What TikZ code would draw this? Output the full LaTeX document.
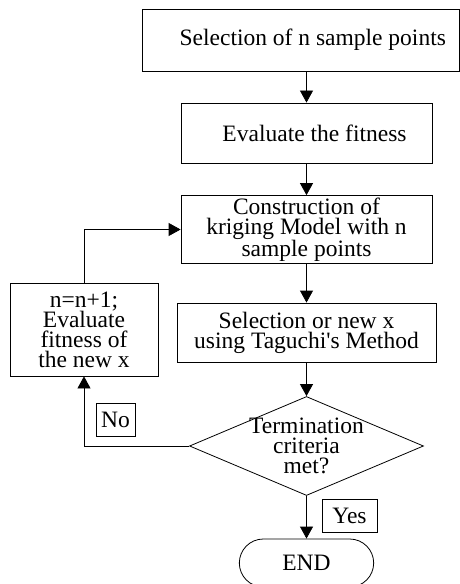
\documentclass[tikz,border=0pt]{standalone}
\usepackage{fontspec}
\setmainfont{Liberation Serif}
\usetikzlibrary{shapes.geometric}
\usetikzlibrary{shapes.misc}
\usetikzlibrary{arrows.meta}
\usetikzlibrary{math}

\tikzset{
  box/.style={draw, rectangle, inner sep=2bp, align=center},
  decision/.style={draw, diamond, inner sep=0pt, minimum width=234bp, minimum height=99bp},
  answer/.style={draw, rectangle, inner sep=0pt},
  terminal/.style={draw, rounded rectangle, minimum width=141bp, minimum height=48bp},
  flow/.style={-{Triangle[length=12bp,width=13bp]}}
}

\begin{document}
\begin{tikzpicture}[x=1bp,y=-1bp,line width=0.8bp,font=\fontsize{23.5bp}{20bp}\selectfont]

  \tikzmath{
    \midx  = 306.5; % x of the main column
    \loopx = 84;    % x of the loop back
  }

  \useasboundingbox (0,0) rectangle (460,584);

  % main column
  \node[box, minimum width=317.5bp, minimum height=62bp,
        label={[xshift=12bp]center:Selection of n sample points}] (select) at (300.75,40) {};
  \node[box, minimum width=251bp, minimum height=60bp,
        label={[xshift=8bp]center:Evaluate the fitness}] (evaluate) at (\midx,133) {};
  \node[box, minimum width=251bp, minimum height=67bp] (kriging) at (\midx,229.5)
    {Construction of\\kriging Model with n\\sample points};
  \node[box, minimum width=259bp, minimum height=59bp] (taguchi) at (\midx,332.5)
    {Selection or new x\\using Taguchi\textquotesingle s Method};
  \node[decision, label={[align=center]center:Termination\\criteria\\met?}] (criteria) at (\midx,446) {};
  \node[terminal] (finish) at (\midx,563) {END};

  % loop back
  \node[box, minimum width=148bp, minimum height=93bp] (update) at (\loopx,329.5)
    {n=n+1;\\Evaluate\\fitness of\\the new x};

  % answers
  \node[answer, minimum width=39bp, minimum height=33bp] (no) at (115.5,419.5) {No};
  \node[answer, minimum width=55bp, minimum height=33bp] (yes) at (349.5,515.5) {Yes};

  % arrows
  \draw[flow] (evaluate.north |- select.south) -- (evaluate.north);
  \draw[flow] (evaluate) -- (kriging);
  \draw[flow] (kriging) -- (taguchi);
  \draw[flow] (taguchi) -- (criteria);
  \draw[flow] (criteria) -- (finish);
  \draw[flow] (criteria.west) -| (update.south);
  \draw[flow] (update.north) |- (kriging.west);

\end{tikzpicture}
\end{document}
